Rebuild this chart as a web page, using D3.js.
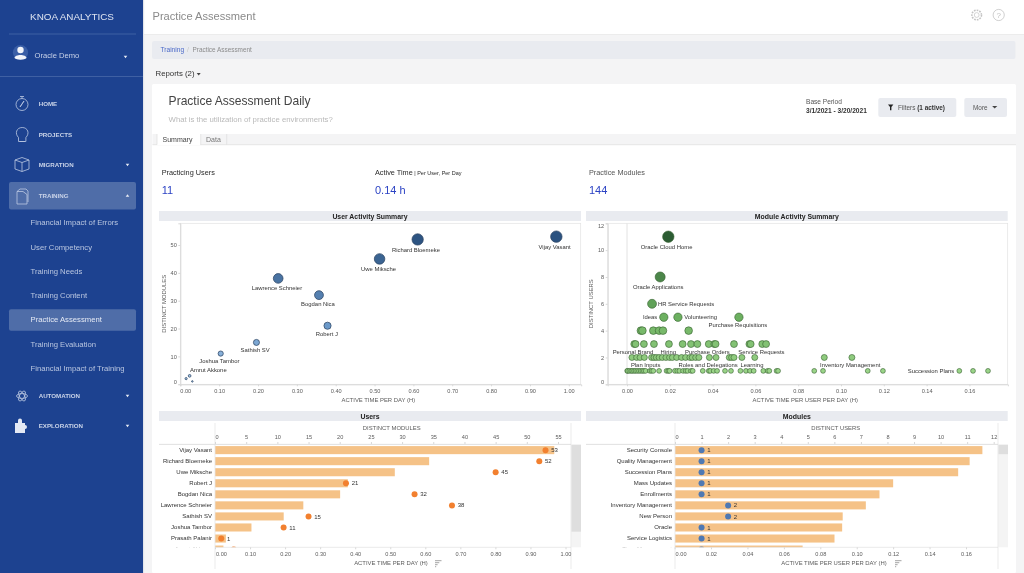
<!DOCTYPE html>
<html><head><meta charset="utf-8">
<style>html,body{margin:0;padding:0;background:#f4f4f5;overflow:hidden}svg{display:block;font-family:'Liberation Sans',Arial,sans-serif;filter:blur(.3px)}</style>
<script src="https://cdn.jsdelivr.net/npm/d3@7"></script></head><body><div id="c"></div>
<script>
// ---------- data ----------
const userNames=["Vijay Vasant","Richard Bloemeke","Uwe Miksche","Robert J","Bogdan Nica","Lawrence Schneier","Sathish SV","Joshua Tambor","Prasath Palanir","Amrut Akkone","Other User"];
const userTime=[0.968,0.611,0.513,0.379,0.357,0.252,0.196,0.104,0.031,0.024,0.015];
const userModules=[53,52,45,21,32,38,15,11,1,3,2];
const userLabelled=["Vijay Vasant","Richard Bloemeke","Uwe Miksche","Robert J","Bogdan Nica","Lawrence Schneier","Sathish SV","Joshua Tambor","Amrut Akkone"];

const moduleRows=[
 {users:11,time:[0.0193]},
 {users:8,time:[0.0155]},
 {users:6,time:[0.0117]},
 {users:5,time:[0.0172,0.0238,0.0523]},
 {users:4,time:[0.0065,0.0072,0.0123,0.015,0.0168,0.0288]},
 {users:3,time:[0.0034,0.004,0.0079,0.0126,0.0196,0.026,0.0299,0.0329,0.0382,0.0408,0.0414,0.05,0.0572,0.0578,0.0632,0.065]},
 {users:2,time:[0.0023,0.0045,0.0061,0.0081,0.0115,0.0126,0.0137,0.015,0.0165,0.0182,0.0199,0.0212,0.0232,0.0255,0.0274,0.0294,0.0305,0.0321,0.0336,0.0385,0.0416,0.0478,0.0489,0.05,0.0537,0.0597,0.0922,0.1051]},
 {users:1,time:[0.0001,0.0003,0.0011,0.0019,0.0025,0.0033,0.004,0.0048,0.0056,0.0064,0.0072,0.0079,0.0087,0.0107,0.0115,0.0123,0.015,0.0185,0.0193,0.0199,0.0224,0.0235,0.0245,0.0262,0.0274,0.0283,0.0299,0.0307,0.0354,0.0382,0.0389,0.0405,0.0421,0.0458,0.0486,0.053,0.0556,0.0575,0.0592,0.0637,0.0657,0.0665,0.0699,0.0706,0.0875,0.0916,0.1125,0.1196,0.1553,0.1617,0.1687]}
];
const moduleLabelNames=["Oracle Cloud Home","Oracle Applications","HR Service Requests","Ideas","Volunteering","Purchase Requisitions","Personal Brand","Hiring","Purchase Orders","Service Requests","Plan Inputs","Roles and Delegations","Learning","Inventory Management","Succession Plans"];
const moduleLabelTime=[0.0193,0.0155,0.0117,0.0172,0.0238,0.0523,0.0045,0.0199,0.0385,0.0597,0.0087,0.0382,0.0592,0.1051,0.1553];
const moduleLabelUsers=[11,8,6,5,5,5,2,2,2,2,1,1,1,2,1];

const barModuleNames=["Security Console","Quality Management","Succession Plans","Mass Updates","Enrollments","Inventory Management","New Person","Oracle","Service Logistics","Time Management"];
const barModuleTime=[0.169,0.162,0.1557,0.12,0.1125,0.105,0.0923,0.092,0.0878,0.0703];
const barModuleUsers=[1,1,1,1,1,2,2,1,1,1];

const userBarNames=userNames.slice(0,10);
const userTimeTicks=[0,0.1,0.2,0.3,0.4,0.5,0.6,0.7,0.8,0.9,1];
const userModuleTicks=[0,10,20,30,40,50];
const moduleTimeTicks=[0,0.02,0.04,0.06,0.08,0.1,0.12,0.14,0.16];
const moduleUserTicks=[0,2,4,6,8,10,12];
const topModuleTicks=[0,5,10,15,20,25,30,35,40,45,50,55];
const topUserTicks=[0,1,2,3,4,5,6,7,8,9,10,11,12];

const navMain=[["HOME",104],["PROJECTS",134.5],["MIGRATION",165],["TRAINING",195.5],["AUTOMATION",396],["EXPLORATION",426]];
const navSub=[["Financial Impact of Errors",222.5],["User Competency",247],["Training Needs",271],["Training Content",295.5],["Practice Assessment",319.5],["Training Evaluation",344],["Financial Impact of Training",368]];

// ---------- label offsets (layout only) ----------
const userLabelOffset=[[-1.7,10.3],[-1.7,10.3],[-1,10],[-.7,8],[-1,9],[-1.3,9.7],[-1.3,7.3],[-1.3,7.3],[18.7,-5.7]];
const moduleLabelOffset=[[-1.7,10],[-2,9.7],[34,0],[-13.7,0],[22.7,0],[-1,8],[-3.7,-6],[-1.3,-6],[-2,-6],[6.7,-6],[0,-6],[-.7,-6],[-1.7,-6],[-1.7,7.3],[-28.3,0]];

// ---------- page ----------
const svg=d3.select("#c").append("svg").attr("width",1024).attr("height",573);
const rect=(g,x,y,w,h,f,o={})=>{const r=g.append("rect").attr("x",x).attr("y",y).attr("width",w).attr("height",h).attr("fill",f);for(const k in o)r.attr(k,o[k]);return r};
const text=(g,s,x,y,size,f,o={})=>{const t=g.append("text").attr("x",x).attr("y",y).attr("font-size",size).attr("fill",f).attr("dy",".35em").text(s);for(const k in o)t.attr(k,o[k]);return t};
const caret=(g,x,y,f,up,w=2.2)=>g.append("path").attr("d",up?`M${x-w},${y+1.2}L${x+w},${y+1.2}L${x},${y-1.2}Z`:`M${x-w},${y-1.2}L${x+w},${y-1.2}L${x},${y+1.2}Z`).attr("fill",f);

rect(svg,0,0,1024,573,"#f4f4f5");
rect(svg,143,0,881,34,"#ffffff");
svg.append("line").attr("x1",143).attr("x2",1024).attr("y1",34.5).attr("y2",34.5).attr("stroke","#ececec");
text(svg,"Practice Assessment",152.5,16.5,11.1,"#8a8a8a");
// top icons
svg.append("circle").attr("cx",976.7).attr("cy",15).attr("r",4.8).attr("fill","none").attr("stroke","#c4c4c4").attr("stroke-width",1.6).attr("stroke-dasharray","1.7 1.05");
svg.append("circle").attr("cx",976.7).attr("cy",15).attr("r",2.4).attr("fill","none").attr("stroke","#c4c4c4").attr("stroke-width",.7);
svg.append("circle").attr("cx",998.7).attr("cy",15).attr("r",5.6).attr("fill","none").attr("stroke","#c4c4c4").attr("stroke-width",.8);
text(svg,"?",998.7,15,8,"#c0c0c0",{"text-anchor":"middle"});
// breadcrumb
rect(svg,152,41,863.5,18,"#e9ebf0",{rx:2});
text(svg,"Training",160.5,49.8,6.6,"#4a69c8");
text(svg,"/",187,49.8,6.6,"#c4c4c4");
text(svg,"Practice Assessment",192.5,49.8,6.4,"#8c8c8c");
text(svg,"Reports (2)",155.5,73.6,7.8,"#333333");
caret(svg,198.7,74.2,"#444",false,2);
// card
rect(svg,152,84,864,489,"#ffffff",{rx:1.5});
text(svg,"Practice Assessment Daily",168.6,100.3,12.05,"#444444");
text(svg,"What is the utilization of practice environments?",168.6,119.2,7.75,"#b9b9b9");
text(svg,"Base Period",806,101.5,6.6,"#555");
text(svg,"3/1/2021 - 3/20/2021",806,110.2,6.6,"#333",{"font-weight":"bold"});
rect(svg,878.3,98,78,19,"#e9ebf0",{rx:2});
svg.append("path").attr("d","M888,104.5h5.4l-2,2.4v3.3h-1.4v-3.3Z").attr("fill","#222");
text(svg,"Filters ",898,107.3,6.4,"#555").append("tspan").attr("font-weight","bold").attr("fill","#333").text("(1 active)");
rect(svg,964.3,98,42.7,19,"#e9ebf0",{rx:2});
text(svg,"More",973,107.3,6.4,"#555");
caret(svg,994.7,107.3,"#444",false,2.6);
// tabs
rect(svg,152.5,134,863.5,10.7,"#f4f4f5");
svg.append("line").attr("x1",152.5).attr("x2",1016).attr("y1",144.7).attr("y2",144.7).attr("stroke","#dcdcdc").attr("stroke-width",.7);
rect(svg,157,134,43.7,11.2,"#ffffff");
svg.append("path").attr("d","M157,134V144.7M200.7,134V145M226.7,134V144.7").attr("stroke","#dcdcdc").attr("stroke-width",.7).attr("fill","none");
text(svg,"Summary",162.5,139.6,7,"#444");
text(svg,"Data",206,139.6,7,"#777");
// KPIs
text(svg,"Practicing Users",161.7,172,7.3,"#2a2a2a");
text(svg,"11",161.7,190,11,"#2c43c4");
text(svg,"Active Time",375,172,7.3,"#2a2a2a").append("tspan").attr("font-size",5.5).attr("dx",1.5).text("| Per User, Per Day");
text(svg,"0.14 h",375,190,11,"#2c43c4");
text(svg,"Practice Modules",589,172,7.3,"#555");
text(svg,"144",589,190,11,"#2c43c4");
// section headers
[["User Activity Summary",159,211],["Module Activity Summary",586,211],["Users",159,411],["Modules",586,411]].forEach(([t,x,y])=>{
  const w=x<500?422:421.7;
  rect(svg,x,y,w,10,"#e9ebf0");
  text(svg,t,x+w/2,y+5.2,6.9,"#222",{"text-anchor":"middle","font-weight":"bold"});
});

// ---------- sidebar ----------
const side=svg.append("g");
rect(side,0,0,143,573,"#1d4290");
rect(side,143,0,1.2,573,"#e2e4ea");
text(side,"KNOA ANALYTICS",72,16.3,9.9,"#dfe5f2",{"text-anchor":"middle"});
side.append("line").attr("x1",9).attr("x2",136).attr("y1",34).attr("y2",34).attr("stroke","#3f60a3");
side.append("line").attr("x1",0).attr("x2",143).attr("y1",76.5).attr("y2",76.5).attr("stroke","#3f60a3");
side.append("circle").attr("cx",20.5).attr("cy",52.5).attr("r",7.6).attr("fill","#3a5ea6");
side.append("circle").attr("cx",20.5).attr("cy",50).attr("r",3.2).attr("fill","#f2f4fa");
side.append("path").attr("d","M14.5,58c0,-4 12,-4 12,0c-2,2.2 -10,2.2 -12,0Z").attr("fill","#f2f4fa");
text(side,"Oracle Demo",34.5,55,7.6,"#c8d2e8");
caret(side,125.5,57,"#e8ecf5",false,1.8);
rect(side,9,182,127,27.5,"#4f6da8",{rx:2});
rect(side,9,309.3,127,21.5,"#4f6da8",{rx:2});
navMain.forEach(([t,y])=>text(side,t,38.7,y,6.2,"#c9d3e8",{"font-weight":"bold"}));
navSub.forEach(([t,y])=>text(side,t,30.5,y,7.7,t==="Practice Assessment"?"#e4e9f4":"#b9c6e0"));
[[165,0],[195.5,1],[396,0],[426,0]].forEach(([y,u])=>caret(side,127.5,y,"#e8ecf5",u,1.8));
const ic=side.append("g").attr("fill","none").attr("stroke","#bcc9e2").attr("stroke-width",.8);
ic.append("circle").attr("cx",22).attr("cy",104.5).attr("r",6);
ic.append("path").attr("d","M22,98.5v-2M20,96.5h4M20,107l2,-3l2,-3l-2,3Z");
ic.append("path").attr("d","M18.5,137.5c-4,-4 -2,-10 3.7,-10c5.7,0 7.7,6 3.7,10v4h-7.4ZM19.5,141.5h5.4");
ic.append("path").attr("d","M15,160l7,-2.5l7,2.5v9l-7,2.5l-7,-2.5ZM15,160l7,2.5l7,-2.5M22,162.5v9");
ic.append("path").attr("d","M17,191.5h6l4,3v9.5h-10ZM17,191.5l3,-2.5h6l2,2v11");
ic.append("ellipse").attr("cx",22).attr("cy",396).attr("rx",5.5).attr("ry",2.4);
ic.append("ellipse").attr("cx",22).attr("cy",396).attr("rx",5.5).attr("ry",2.4).attr("transform","rotate(60 22 396)");
ic.append("ellipse").attr("cx",22).attr("cy",396).attr("rx",5.5).attr("ry",2.4).attr("transform","rotate(120 22 396)");
side.append("path").attr("d","M15,423h3v-2.5a2,2 0 0 1 4,0V423h3v2a2,2 0 0 1 0,4v4H15Z").attr("fill","#e4e9f4");

// ---------- chart helpers ----------
const TICK="#5c5c5c",AXIS="#d8d8d8",FS=5.6;
function styleAxis(g){
  g.selectAll(".domain").attr("stroke",AXIS);
  g.selectAll(".tick line").attr("stroke",AXIS);
  g.selectAll("text").attr("fill",TICK).attr("font-size",FS).attr("font-family","'Liberation Sans',Arial,sans-serif");
}
function frame(x0,y0,x1,y1){
  svg.append("rect").attr("x",x0).attr("y",y0).attr("width",x1-x0).attr("height",y1-y0).attr("fill","none").attr("stroke","#e2e2e2").attr("stroke-width",.7);
}
const axisTitle=(s,x,y,rot)=>{const t=text(svg,s,x,y,5.9,"#5c5c5c",{"text-anchor":"middle"});if(rot)t.attr("transform",`rotate(-90 ${x} ${y})`);return t};

// ---------- user scatter ----------
const ux=d3.scaleLinear().domain([0,1.032]).range([180.3,581.2]);
const uy=d3.scaleLinear().domain([0,57.8]).range([384.2,223.3]);
const ur=d3.scaleSqrt().domain([0,53]).range([0,5.7]);
const uc=d3.scaleLinear().domain([1,20,53]).range(["#a6c8e8","#6d9bcb","#2b5280"]);
frame(180.3,223.3,580.7,384.3);
const uxa=svg.append("g").attr("transform","translate(0,384.3)").call(d3.axisBottom(ux).tickValues(userTimeTicks).tickFormat(d3.format(".2f")).tickSize(2).tickPadding(2.5));styleAxis(uxa);
uxa.select(".tick text").attr("text-anchor","start").attr("x",-.5);
const uya=svg.append("g").attr("transform","translate(180.3,0)").call(d3.axisLeft(uy).tickValues(userModuleTicks).tickSize(2).tickPadding(1.5));styleAxis(uya);
uya.select(".tick text").attr("dy","-.1em");
axisTitle("ACTIVE TIME PER DAY (H)",378.3,400.3);
axisTitle("DISTINCT MODULES",164.3,303.7,true);
svg.append("g").selectAll("circle").data(userNames).join("circle")
  .attr("cx",(d,i)=>ux(userTime[i])).attr("cy",(d,i)=>uy(userModules[i])).attr("r",(d,i)=>ur(userModules[i]))
  .attr("fill",(d,i)=>uc(userModules[i])).attr("stroke","#2d4664").attr("stroke-width",.75);
svg.append("g").selectAll("text").data(userLabelled).join("text")
  .attr("x",(d,i)=>ux(userTime[userNames.indexOf(d)])+userLabelOffset[i][0])
  .attr("y",(d,i)=>uy(userModules[userNames.indexOf(d)])+userLabelOffset[i][1])
  .attr("dy",".35em").attr("text-anchor","middle").attr("font-size",5.9).attr("fill","#333").text(d=>d);

// ---------- module scatter ----------
const mx=d3.scaleLinear().domain([-0.00902,0.178]).range([607.7,1007.9]);
const my=d3.scaleLinear().domain([0,12]).range([384.3,223.3]);
const mr=d3.scaleSqrt().domain([-0.5,11]).range([0,5.7]);
const mc=d3.scaleLinear().domain([1,5,11]).range(["#9ad488","#6cb060","#2c5c33"]);
frame(607.7,223.3,1007.7,384.3);
svg.append("line").attr("x1",mx(0)).attr("x2",mx(0)).attr("y1",223.3).attr("y2",384.3).attr("stroke","#e2e2e2");
const mxa=svg.append("g").attr("transform","translate(0,384.3)").call(d3.axisBottom(mx).tickValues(moduleTimeTicks).tickFormat(d3.format(".2f")).tickSize(2).tickPadding(2.5));styleAxis(mxa);
const mya=svg.append("g").attr("transform","translate(607.7,0)").call(d3.axisLeft(my).tickValues(moduleUserTicks).tickSize(2).tickPadding(1.5));styleAxis(mya);
mya.selectAll(".tick text").filter(d=>d===0).attr("dy","-.1em");
mya.selectAll(".tick text").filter(d=>d===12).attr("dy",".8em");
axisTitle("ACTIVE TIME PER USER PER DAY (H)",805.3,400.3);
axisTitle("DISTINCT USERS",591.3,303.7,true);
const mg=svg.append("g");
moduleRows.slice().reverse().forEach(row=>{
  mg.append("g").selectAll("circle").data(row.time).join("circle")
   .attr("cx",d=>mx(d)).attr("cy",my(row.users)).attr("r",mr(row.users))
   .attr("fill",mc(row.users)).attr("stroke","#35602f").attr("stroke-width",.6);
});
svg.append("g").selectAll("text").data(moduleLabelNames).join("text")
  .attr("x",(d,i)=>mx(moduleLabelTime[i])+moduleLabelOffset[i][0])
  .attr("y",(d,i)=>my(moduleLabelUsers[i])+moduleLabelOffset[i][1])
  .attr("dy",".35em").attr("text-anchor","middle").attr("font-size",5.9).attr("fill","#333").text(d=>d);

// ---------- bar panels ----------
function barPanel(o){
  const {id,x0,x1,names,bars,pts,xb,xt,ticksB,ticksT,fmtB,dot,topTitle,topTitleX,botTitle,botTitleX,iconX,thumbY,sbX}=o;
  const y=d3.scaleBand().domain(names).range([444.6,555.1]).paddingInner(.27).paddingOuter(.135);
  svg.append("defs").append("clipPath").attr("id",id).append("rect").attr("x",x0-70).attr("y",445).attr("width",x1-x0+70).attr("height",102.3);
  // scrollbar
  rect(svg,sbX,444.7,9.7,102.6,"#f4f4f4");
  rect(svg,sbX,444.7,9.7,thumbY,"#dedede");
  const g=svg.append("g").attr("clip-path",`url(#${id})`);
  g.selectAll("rect.b").data(names).join("rect").attr("class","b")
    .attr("x",x0).attr("y",d=>y(d)).attr("height",y.bandwidth()).attr("width",(d,i)=>xb(bars[i])-x0).attr("fill","#f5c287");
  g.selectAll("text.n").data(names).join("text").attr("class","n")
    .attr("x",x0-3).attr("y",d=>y(d)+y.bandwidth()/2-.4).attr("dy",".35em").attr("text-anchor","end")
    .attr("font-size",6).attr("fill","#333").text(d=>d);
  g.selectAll("circle.p").data(names).join("circle").attr("class","p")
    .attr("cx",(d,i)=>xt(pts[i])).attr("cy",d=>y(d)+y.bandwidth()/2).attr("r",3).attr("fill",dot);
  g.selectAll("text.v").data(names).join("text").attr("class","v")
    .attr("x",(d,i)=>xt(pts[i])+5.7).attr("y",d=>y(d)+y.bandwidth()/2).attr("dy",".35em")
    .attr("font-size",6).attr("fill","#333").text((d,i)=>pts[i]);
  // frame rules
  svg.append("path").attr("d",`M${x0},423V569M${x1},423V569`).attr("stroke","#e6e6e6").attr("stroke-width",.8).attr("fill","none");
  svg.append("line").attr("x1",159+(x0>500?427:0)).attr("x2",x1).attr("y1",444.4).attr("y2",444.4).attr("stroke","#dcdcdc").attr("stroke-width",.9);
  svg.append("line").attr("x1",x0).attr("x2",x1).attr("y1",547.3).attr("y2",547.3).attr("stroke","#dcdcdc").attr("stroke-width",.6);
  const at=svg.append("g").attr("transform","translate(0,444)").call(d3.axisTop(xt).tickValues(ticksT).tickSize(2).tickPadding(2.6));styleAxis(at);
  at.select(".domain").remove();
  at.select(".tick text").attr("text-anchor","start");
  const ab=svg.append("g").attr("transform","translate(0,547.3)").call(d3.axisBottom(xb).tickValues(ticksB).tickFormat(fmtB).tickSize(2).tickPadding(2.8));styleAxis(ab);
  ab.select(".domain").remove();
  ab.select(".tick text").attr("text-anchor","start").attr("x",.5);
  axisTitle(topTitle,topTitleX,427.7);
  axisTitle(botTitle,botTitleX,563.3);
  svg.append("path").attr("d",`M${iconX},560.7h6.5M${iconX},562.7h4.3M${iconX},564.7h2.6M${iconX},566.7h1.2`).attr("stroke","#666").attr("stroke-width",.6).attr("fill","none");
}
const f2=d3.format(".2f");
barPanel({id:"cu",x0:215,x1:571,names:userBarNames,bars:userTime.slice(0,10),pts:userModules.slice(0,10),
  xb:d3.scaleLinear().domain([0,1]).range([215,565.5]),xt:d3.scaleLinear().domain([0,55]).range([215,558]),
  ticksB:userTimeTicks,ticksT:topModuleTicks,fmtB:f2,dot:"#f2802f",
  topTitle:"DISTINCT MODULES",topTitleX:391.7,botTitle:"ACTIVE TIME PER DAY (H)",botTitleX:391,iconX:435,thumbY:87,sbX:571.3});
barPanel({id:"cm",x0:675,x1:998,names:barModuleNames,bars:barModuleTime,pts:barModuleUsers,
  xb:d3.scaleLinear().domain([0,0.16]).range([674.6,966]),xt:d3.scaleLinear().domain([0,12]).range([675,993.7]),
  ticksB:moduleTimeTicks,ticksT:topUserTicks,fmtB:f2,dot:"#4f79b3",
  topTitle:"DISTINCT USERS",topTitleX:835.7,botTitle:"ACTIVE TIME PER USER PER DAY (H)",botTitleX:834,iconX:895,thumbY:9.5,sbX:998.3});
</script></body></html>
